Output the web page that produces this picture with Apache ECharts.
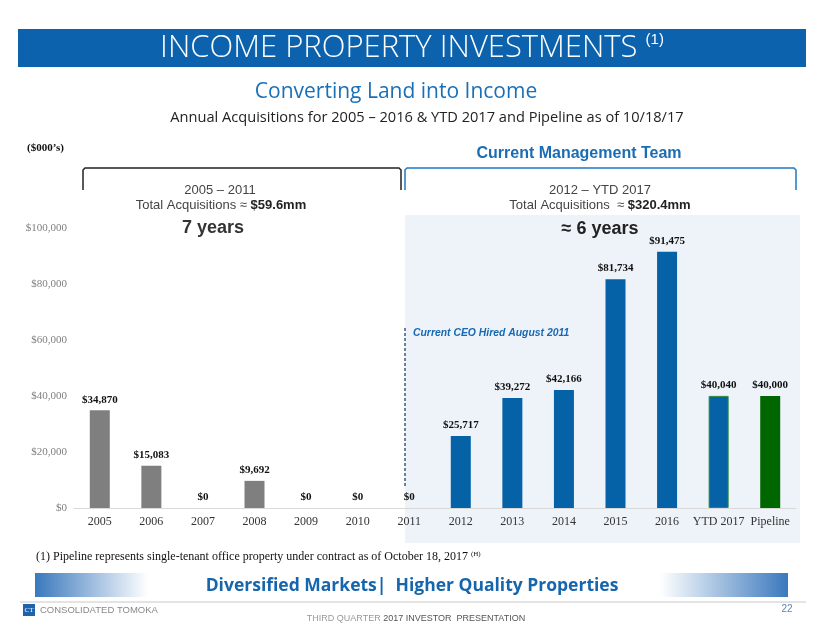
<!DOCTYPE html>
<html>
<head>
<meta charset="utf-8">
<script src="https://cdn.jsdelivr.net/npm/echarts@6/dist/echarts.min.js"></script>
<style>
  html, body { margin: 0; padding: 0; background: #fff; }
  #main { width: 824px; height: 637px; }
</style>
</head>
<body>
<div id="main"></div>
<script>
// acquisitions, $000's
var categories = ['2005', '2006', '2007', '2008', '2009', '2010', '2011',
  '2012', '2013', '2014', '2015', '2016', 'YTD 2017', 'Pipeline']
var acquisitions = [34870, 15083, 0, 9692, 0, 0, 0,
  25717, 39272, 42166, 81734, 91475, 40040, 40000]
var yTicks = [0, 20000, 40000, 60000, 80000, 100000]

var GRAY = '#7f7f7f'
var BLUE = '#0562a7'
var GREEN = '#006600'
var SERIF = '"Liberation Serif", "DejaVu Serif", serif'
var SANS = '"Liberation Sans", Arial, sans-serif'

function money(v) {
  return '$' + v.toLocaleString('en-US')
}

function barColor(i) {
  if (categories[i] === 'Pipeline') return GREEN
  if (i <= 6) return GRAY
  return BLUE
}

var myChart = echarts.init(document.getElementById('main'))

myChart.setOption({
  animation: false,
  grid: { left: 74, right: 28, top: 228, bottom: 129 },
  xAxis: {
    type: 'category',
    data: categories,
    axisLine: { lineStyle: { color: '#d9d9d9', width: 1 } },
    axisTick: { show: false },
    axisLabel: { fontFamily: SERIF, fontSize: 12, color: '#333', margin: 8, interval: 0 },
  },
  yAxis: {
    type: 'value',
    min: yTicks[0],
    max: yTicks[yTicks.length - 1],
    interval: 20000,
    splitLine: { show: false },
    axisLine: { show: false },
    axisTick: { show: false },
    axisLabel: { fontFamily: SERIF, fontSize: 11, color: '#808080', margin: 7, formatter: money },
  },
  series: [
    {
      type: 'bar',
      barWidth: 20,
      z: 5,
      data: acquisitions.map(function (v, i) {
        var item = { value: v, itemStyle: { color: barColor(i) } }
        if (categories[i] === 'YTD 2017') {
          item.itemStyle.borderColor = '#2e8b3a'
          item.itemStyle.borderWidth = 1
        }
        return item
      }),
      label: {
        show: true,
        position: 'top',
        distance: 5,
        fontFamily: SERIF,
        fontWeight: 'bold',
        fontSize: 11,
        color: '#111',
        formatter: function (p) { return money(p.value) },
      },
    },
  ],
  graphic: [
    // title band
    { type: 'rect', shape: { x: 18, y: 29, width: 788, height: 38 }, style: { fill: '#0c62ac' } },
    {
      type: 'text', x: 412, y: 48,
      style: {
        text: 'INCOME PROPERTY INVESTMENTS {s|(1)}', fill: '#fff', align: 'center', verticalAlign: 'middle',
        font: '300 31px "Open Sans", sans-serif',
        rich: { s: { fontSize: 15, fill: '#fff', verticalAlign: 'top', padding: [0, 0, 12, 0] } },
      },
    },
    {
      type: 'text', x: 396, y: 92,
      style: { text: 'Converting Land into Income', fill: '#1a70b8', align: 'center', verticalAlign: 'middle', font: '21px "Open Sans", sans-serif' },
    },
    {
      type: 'text', x: 427, y: 118,
      style: { text: 'Annual Acquisitions for 2005 \u2013 2016 & YTD 2017 and Pipeline as of 10/18/17', fill: '#222', align: 'center', verticalAlign: 'middle', font: '14.6px "Open Sans", sans-serif' },
    },
    {
      type: 'text', x: 27, y: 148,
      style: { text: "($000\u2019s)", fill: '#111', verticalAlign: 'middle', font: 'bold 11px ' + SERIF },
    },
    {
      type: 'text', x: 579, y: 154,
      style: { text: 'Current Management Team', fill: '#1a6db4', align: 'center', verticalAlign: 'middle', font: 'bold 16px ' + SANS },
    },
    // shaded current management area
    { type: 'rect', z: -10, shape: { x: 405, y: 215, width: 395, height: 328 }, style: { fill: '#eef3f9' } },
    // brackets
    {
      type: 'polyline', shape: { points: [[83, 190], [83, 170], [85, 168], [399, 168], [401, 170], [401, 190]] },
      style: { stroke: '#222', lineWidth: 1.5, fill: null },
    },
    {
      type: 'polyline', shape: { points: [[405, 190], [405, 170], [407, 168], [794, 168], [796, 170], [796, 190]] },
      style: { stroke: '#1f78c1', lineWidth: 1.5, fill: null },
    },
    {
      type: 'text', x: 220, y: 190,
      style: { text: '2005 \u2013 2011', fill: '#444', align: 'center', verticalAlign: 'middle', font: '13px ' + SANS },
    },
    {
      type: 'text', x: 221, y: 205,
      style: {
        text: 'Total Acquisitions \u2248 {b|$59.6mm}', fill: '#444', align: 'center', verticalAlign: 'middle', font: '13px ' + SANS,
        rich: { b: { fontWeight: 'bold', fontSize: 13, fontFamily: SANS, fill: '#222' } },
      },
    },
    {
      type: 'text', x: 213, y: 228,
      style: { text: '7 years', fill: '#333', align: 'center', verticalAlign: 'middle', font: 'bold 18px ' + SANS },
    },
    {
      type: 'text', x: 600, y: 190,
      style: { text: '2012 \u2013 YTD 2017', fill: '#444', align: 'center', verticalAlign: 'middle', font: '13px ' + SANS },
    },
    {
      type: 'text', x: 600, y: 205,
      style: {
        text: 'Total Acquisitions  \u2248 {b|$320.4mm}', fill: '#444', align: 'center', verticalAlign: 'middle', font: '13px ' + SANS,
        rich: { b: { fontWeight: 'bold', fontSize: 13, fontFamily: SANS, fill: '#222' } },
      },
    },
    {
      type: 'text', x: 600, y: 229,
      style: { text: '\u2248 6 years', fill: '#222', align: 'center', verticalAlign: 'middle', font: 'bold 18px ' + SANS },
    },
    // CEO marker
    {
      type: 'line', shape: { x1: 405, y1: 328, x2: 405, y2: 488 },
      style: { stroke: '#3b5a85', lineWidth: 1.5, lineDash: [3, 2] },
    },
    {
      type: 'text', x: 413, y: 333,
      style: { text: 'Current CEO Hired August 2011', fill: '#1769b3', verticalAlign: 'middle', font: 'italic bold 10.4px ' + SANS },
    },
    // footnote
    {
      type: 'text', x: 36, y: 557,
      style: {
        text: '(1) Pipeline represents single-tenant office property under contract as of October 18, 2017 {s|(H)}', fill: '#111', verticalAlign: 'middle', font: '12px ' + SERIF,
        rich: { s: { fontSize: 7, fontFamily: SERIF, fill: '#111', padding: [0, 0, 6, 0] } },
      },
    },
    // bottom band
    {
      type: 'rect', shape: { x: 35, y: 573, width: 753, height: 24 },
      style: {
        fill: {
          type: 'linear', x: 0, y: 0, x2: 1, y2: 0,
          colorStops: [
            { offset: 0, color: '#3a78bd' }, { offset: 0.15, color: '#ffffff' },
            { offset: 0.83, color: '#ffffff' }, { offset: 1, color: '#3a78bd' },
          ],
        },
      },
    },
    {
      type: 'text', x: 412, y: 586,
      style: { text: 'Diversified Markets|  Higher Quality Properties', fill: '#1566ad', align: 'center', verticalAlign: 'middle', font: 'bold 17.5px "Open Sans", sans-serif' },
    },
    // footer
    { type: 'line', shape: { x1: 20, y1: 602, x2: 806, y2: 602 }, style: { stroke: '#c8c8c8', lineWidth: 1 } },
    { type: 'rect', shape: { x: 23, y: 604, width: 12, height: 12 }, style: { fill: '#1d64ac' } },
    {
      type: 'text', x: 29, y: 610,
      style: { text: 'CT', fill: '#fff', align: 'center', verticalAlign: 'middle', font: '7px ' + SERIF },
    },
    {
      type: 'text', x: 40, y: 610,
      style: { text: 'CONSOLIDATED TOMOKA', fill: '#888', verticalAlign: 'middle', font: '9.5px ' + SANS },
    },
    {
      type: 'text', x: 787, y: 609,
      style: { text: '22', fill: '#5a86b8', align: 'center', verticalAlign: 'middle', font: '10px ' + SANS },
    },
    {
      type: 'text', x: 416, y: 619,
      style: {
        text: '{l|THIRD QUARTER} 2017 INVESTOR  PRESENTATION', fill: '#555', align: 'center', verticalAlign: 'middle', font: '9px ' + SANS,
        rich: { l: { fill: '#999', fontSize: 9, fontFamily: SANS } },
      },
    },
  ],
})
</script>
</body>
</html>
